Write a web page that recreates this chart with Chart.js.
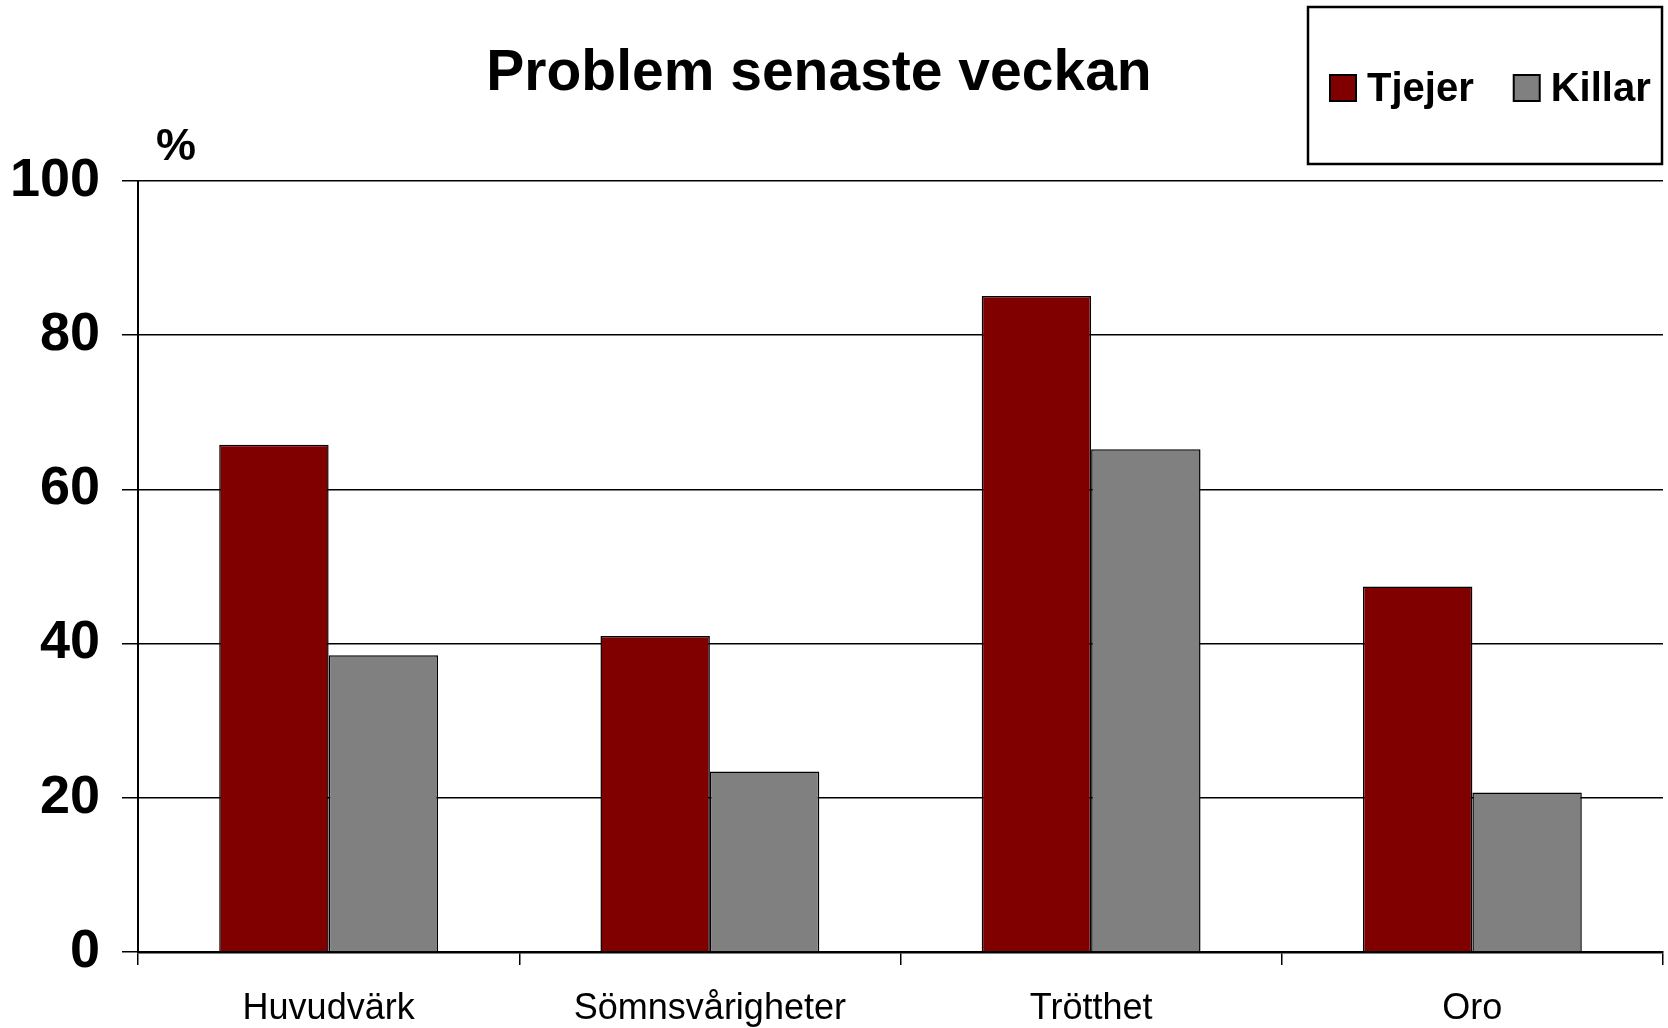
<!DOCTYPE html>
<html>
<head>
<meta charset="utf-8">
<script src="https://cdn.jsdelivr.net/npm/chart.js@4"></script>
<style>
  html, body { margin: 0; padding: 0; background: #fff; }
  #wrap { width: 1668px; height: 1028px; position: relative; }
</style>
</head>
<body>
<div id="wrap"><canvas id="chart"></canvas></div>
<script>
const categories = ["Huvudvärk", "Sömnsvårigheter", "Trötthet", "Oro"];
const tjejer = [65.8, 41.0, 85.1, 47.4];
const killar = [38.5, 23.4, 65.2, 20.7];
const yTicks = [0, 20, 40, 60, 80, 100];
const title = "Problem senaste veckan";
const unit = "%";

const FONT = "'Liberation Sans', Arial, sans-serif";

// title, "%" and the boxed legend in the top-right
const decor = {
  id: "decor",
  afterDraw(chart) {
    const ctx = chart.ctx;
    const area = chart.chartArea;
    ctx.save();
    ctx.fillStyle = "#000";
    ctx.textBaseline = "middle";

    ctx.font = "bold 57px " + FONT;
    ctx.textAlign = "center";
    ctx.fillText(title, 819, 74);

    ctx.font = "bold 45px " + FONT;
    ctx.textAlign = "left";
    ctx.fillText(unit, area.left + 18, area.top - 33);

    // legend box
    const box = { left: 1308, top: 7, right: 1662, bottom: 164 };
    ctx.lineWidth = 2.5;
    ctx.strokeStyle = "#000";
    ctx.strokeRect(box.left, box.top, box.right - box.left, box.bottom - box.top);

    ctx.font = "bold 40px " + FONT;
    const cy = 88;
    let x = box.left + 22;
    chart.data.datasets.forEach(ds => {
      ctx.fillStyle = ds.backgroundColor;
      ctx.fillRect(x, cy - 13, 26, 26);
      ctx.lineWidth = 2;
      ctx.strokeRect(x, cy - 13, 26, 26);
      x += 37;
      ctx.fillStyle = "#000";
      ctx.fillText(ds.label, x, cy + 2);
      x += ctx.measureText(ds.label).width + 40;
    });
    ctx.restore();
  }
};

new Chart(document.getElementById("chart"), {
  type: "bar",
  data: {
    labels: categories,
    datasets: [
      { label: "Tjejer", data: tjejer, backgroundColor: "#800000", borderColor: "#000", borderWidth: 1.5 },
      { label: "Killar", data: killar, backgroundColor: "#808080", borderColor: "#000", borderWidth: 1.5 }
    ]
  },
  options: {
    responsive: true,
    maintainAspectRatio: false,
    animation: false,
    categoryPercentage: 0.574,
    barPercentage: 1,
    layout: { padding: { top: 181, right: 5, left: 0, bottom: 0 } },
    plugins: {
      legend: { display: false },
      title: { display: false },
      tooltip: { enabled: false }
    },
    scales: {
      x: {
        grid: { display: true, drawOnChartArea: false, offset: true, tickLength: 13, color: "#000", lineWidth: 1.5 },
        border: { color: "#000", width: 2.5 },
        ticks: { color: "#000", font: { family: FONT, size: 36 }, padding: 22, maxRotation: 0 },
        afterFit(scale) { scale.height = 76; }
      },
      y: {
        min: 0,
        max: 100,
        afterBuildTicks(scale) { scale.ticks = yTicks.map(v => ({ value: v })); },
        grid: { color: "#000", lineWidth: 1.5, tickLength: 16 },
        border: { color: "#000", width: 2 },
        ticks: { color: "#000", font: { family: FONT, size: 54, weight: "bold" }, padding: 22 },
        afterFit(scale) { scale.width = 138; }
      }
    }
  },
  plugins: [decor]
});
</script>
</body>
</html>
